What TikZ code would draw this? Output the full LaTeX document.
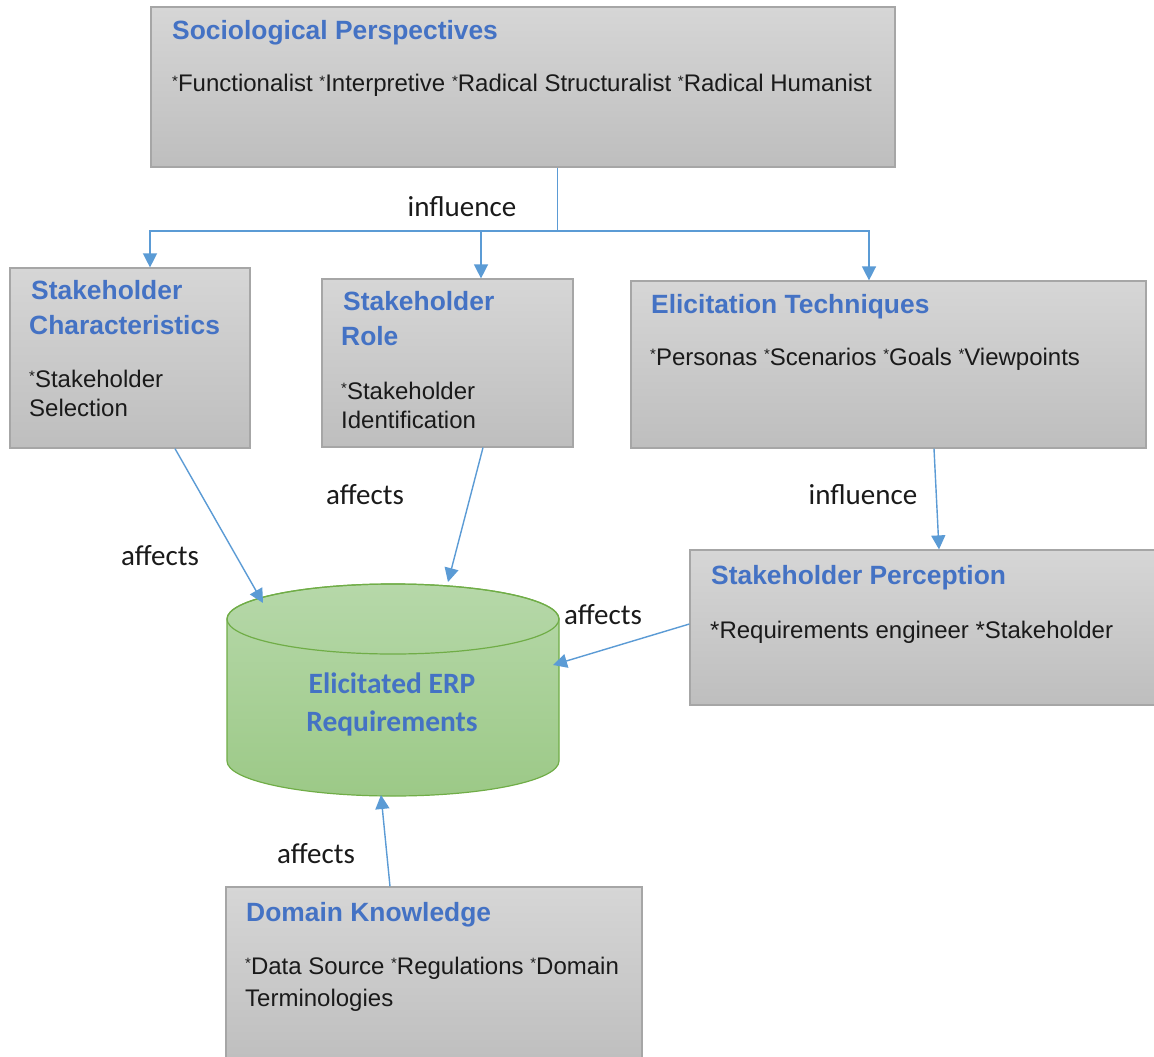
\documentclass[tikz,border=0pt]{standalone}
\usepackage{fontspec}
\setmainfont{Liberation Sans}
\newfontfamily\calib{Carlito}
\usetikzlibrary{arrows.meta,calc}
\definecolor{boxtop}{HTML}{D6D6D6}
\definecolor{boxbot}{HTML}{BEBEBE}
\definecolor{boxline}{HTML}{A6A6A6}
\definecolor{titleblue}{HTML}{4472C4}
\definecolor{linkblue}{HTML}{5B9BD5}
\definecolor{cyltop}{HTML}{B6D8A9}
\definecolor{cylbot}{HTML}{9CC987}
\definecolor{cylline}{HTML}{70AD47}
\definecolor{ink}{HTML}{1A1A1A}
\newcommand\sast{\raisebox{5.5pt}{\fontsize{15}{15}\selectfont *}}
\tikzset{
  box/.style={rectangle, draw=boxline, line width=1.2pt, top color=boxtop, bottom color=boxbot, inner sep=0pt},
  title/.style={anchor=base west, inner sep=0pt, text=titleblue, font=\fontsize{26.4}{30}\selectfont\bfseries},
  body/.style={anchor=base west, inner sep=0pt, text=ink, font=\fontsize{24}{28}\selectfont},
  lbl/.style={anchor=base, inner sep=0pt, text=ink, font=\calib\fontsize{29}{32}\selectfont},
  cyltext/.style={anchor=base, inner sep=0pt, text=titleblue, font=\calib\bfseries\fontsize{29.5}{32}\selectfont},
  wire/.style={draw=linkblue, line width=1.4pt},
  link/.style={wire, -{Triangle[width=14pt,length=14pt]}},
}
\begin{document}
\begin{tikzpicture}[x=1pt,y=-1pt]
\clip (0,0) rectangle (1154,1057);
\fill[white] (0,0) rectangle (1154,1057);

% boxes
\node[box, minimum width=744pt, minimum height=160pt] (socio) at (523,87) {};
\node[box, minimum width=240pt, minimum height=180pt] (char) at (130,358) {};
\node[box, minimum width=251pt, minimum height=168pt] (role) at (447.5,363) {};
\node[box, minimum width=515pt, minimum height=167pt] (elic) at (888.5,364.5) {};
\node[box, minimum width=470pt, minimum height=155pt] (perc) at (925,627.5) {};
\node[box, minimum width=416pt, minimum height=178pt] (dom) at (434,976) {};

% box texts
\node[title] (socio-t) at (172,40) {Sociological Perspectives};
\node[body] (socio-b) at (172,92) {\sast Functionalist \sast Interpretive \sast Radical Structuralist \sast Radical Humanist};

\node[title] (char-t1) at (31,299) {Stakeholder};
\node[title] (char-t2) at (29,334) {Characteristics};
\node[body] (char-b1) at (29,387) {\sast Stakeholder};
\node[body] (char-b2) at (29,416) {Selection};

\node[title] (role-t1) at (343,310) {Stakeholder};
\node[title] (role-t2) at (341,345) {Role};
\node[body] (role-b1) at (341,399) {\sast Stakeholder};
\node[body] (role-b2) at (341,428) {Identification};

\node[title] (elic-t) at (651,313) {Elicitation Techniques};
\node[body] (elic-b) at (650,365) {\sast Personas \sast Scenarios \sast Goals \sast Viewpoints};

\node[title] (perc-t) at (711,584) {Stakeholder Perception};
\node[body] (perc-b) at (710,638) {*Requirements engineer *Stakeholder};

\node[title] (dom-t) at (246,921) {Domain Knowledge};
\node[body] (dom-b1) at (245,974) {\sast Data Source \sast Regulations \sast Domain};
\node[body] (dom-b2) at (245,1006) {Terminologies};

% cylinder
\path[top color=cyltop, bottom color=cylbot, draw=cylline, line width=1.2pt]
  (227,619) -- (227,761) arc[start angle=180, end angle=360, x radius=166, y radius=-35]
  -- (559,619) arc[start angle=0, end angle=180, x radius=166, y radius=-35] -- cycle;
\draw[cylline, line width=1.2pt] (393,619) ellipse[x radius=166, y radius=35];
\node[cyltext] (erp) at (392,693) {Elicitated ERP};
\node[cyltext] (erp2) at (392,731) {Requirements};
\coordinate (erp-nw) at (263,603);
\coordinate (erp-n) at (448,582);
\coordinate (erp-e) at (553,665);
\coordinate (erp-s) at (381,795);

% connectors
\coordinate (fork) at (557.5,231);
\draw[wire] ([xshift=34.5pt]socio.south) -- (fork);
\draw[link] (fork) -| ([xshift=20pt]char.north);
\draw[link] (fork) -| ([xshift=33.5pt]role.north);
\draw[link] (fork) -| ([xshift=-19.5pt]elic.north);
\draw[link] ([xshift=45.5pt]elic.south) -- ([xshift=14pt]perc.north);
\draw[link] ([xshift=45pt]char.south) -- (erp-nw);
\draw[link] ([xshift=35.5pt]role.south) -- (erp-n);
\draw[link] ([yshift=3.5pt]perc.west) -- (erp-e);
\draw[link] ([xshift=-44pt]dom.north) -- (erp-s);

% connector labels
\node[lbl] (l-infl1) at (462,216) {influence};
\node[lbl] (l-aff1) at (160,565) {affects};
\node[lbl] (l-aff2) at (365,504) {affects};
\node[lbl] (l-infl2) at (863,504) {influence};
\node[lbl] (l-aff3) at (603,624) {affects};
\node[lbl] (l-aff4) at (316,863) {affects};
\end{tikzpicture}
\end{document}
